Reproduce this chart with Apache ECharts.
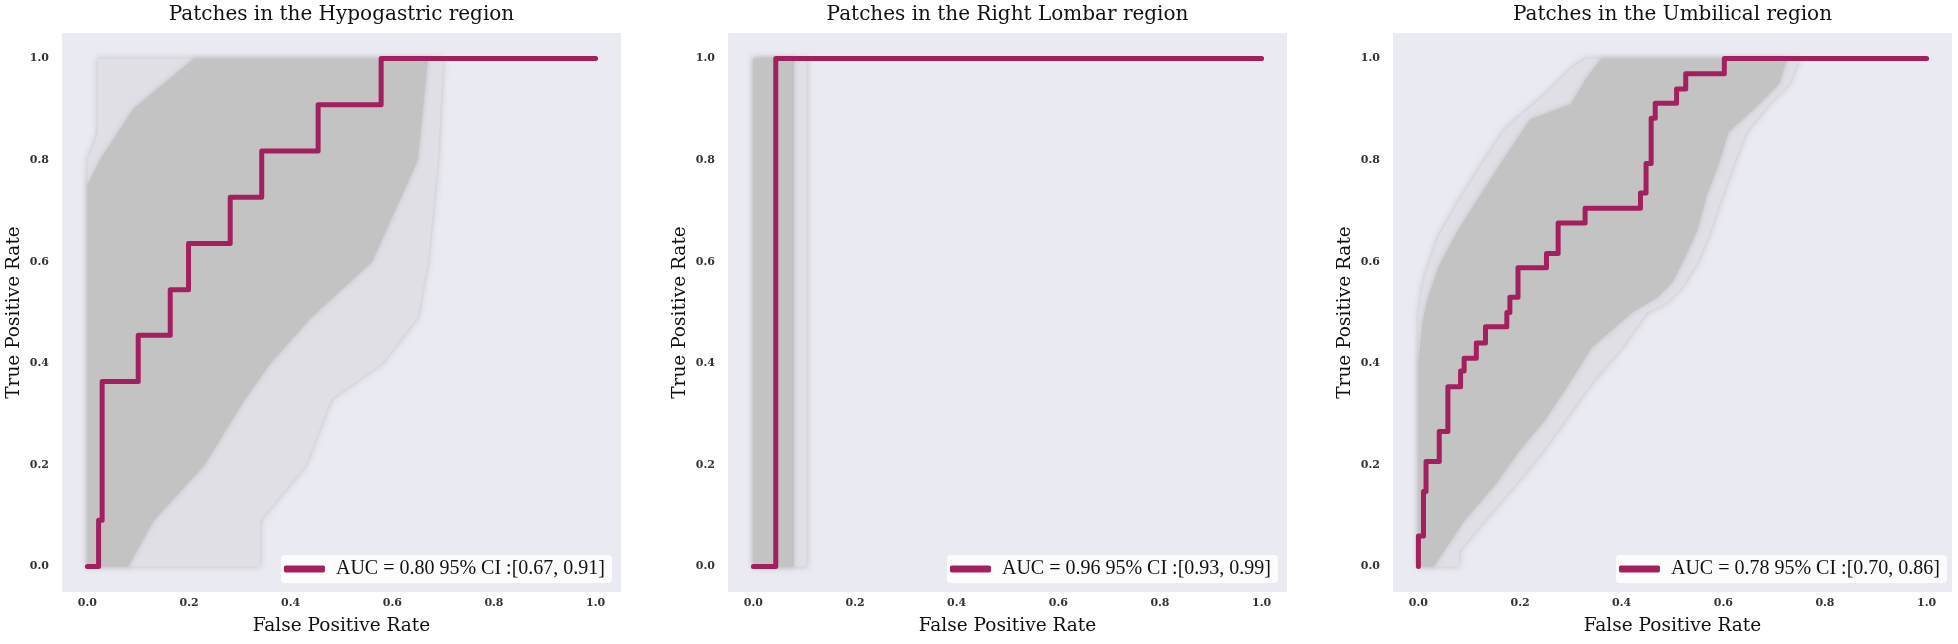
<!DOCTYPE html>
<html>
<head>
<meta charset="utf-8">
<script src="https://cdn.jsdelivr.net/npm/echarts@6/dist/echarts.min.js"></script>
<style>
html,body{margin:0;padding:0;background:#ffffff;}
#chart{width:1958px;height:644px;}
</style>
</head>
<body>
<div id="chart"></div>
<script>
// ---------- data ----------
const titles = [
  'Patches in the Hypogastric region',
  'Patches in the Right Lombar region',
  'Patches in the Umbilical region'
];
const legendLabels = [
  'AUC = 0.80 95% CI :[0.67, 0.91]',
  'AUC = 0.96 95% CI :[0.93, 0.99]',
  'AUC = 0.78 95% CI :[0.70, 0.86]'
];
const xTicks = [0.0, 0.2, 0.4, 0.6, 0.8, 1.0];
const yTicks = [0.0, 0.2, 0.4, 0.6, 0.8, 1.0];
const xName = 'False Positive Rate';
const yName = 'True Positive Rate';

// ROC curves [FPR, TPR]
const rocHypogastric = [[0,0],[0.022,0],[0.022,0.091],[0.029,0.091],[0.029,0.364],[0.10,0.364],[0.10,0.455],
  [0.163,0.455],[0.163,0.545],[0.199,0.545],[0.199,0.636],[0.281,0.636],[0.281,0.727],[0.343,0.727],
  [0.343,0.818],[0.454,0.818],[0.454,0.909],[0.578,0.909],[0.578,1.0],[1.0,1.0]];
const rocRightLombar = [[0,0],[0.044,0],[0.044,1.0],[1.0,1.0]];
const rocUmbilical = [[0,0],[0,0.06],[0.01,0.06],[0.01,0.148],[0.015,0.148],[0.015,0.207],[0.041,0.207],
  [0.041,0.266],[0.058,0.266],[0.058,0.354],[0.083,0.354],[0.083,0.385],[0.09,0.385],[0.09,0.41],
  [0.114,0.41],[0.114,0.44],[0.132,0.44],[0.132,0.472],[0.174,0.472],[0.174,0.50],[0.18,0.50],
  [0.18,0.53],[0.196,0.53],[0.196,0.588],[0.252,0.588],[0.252,0.616],[0.275,0.616],[0.275,0.676],
  [0.328,0.676],[0.328,0.705],[0.437,0.705],[0.437,0.735],[0.448,0.735],[0.448,0.793],[0.458,0.793],
  [0.458,0.882],[0.466,0.882],[0.466,0.912],[0.508,0.912],[0.508,0.94],[0.526,0.94],[0.526,0.97],
  [0.602,0.97],[0.602,1.0],[1.0,1.0]];

// Bootstrap envelopes (outer faint, inner dense) as polygons [FPR, TPR]
const bandHypoOuter = [[0,0],[0,0.8],[0.02,0.85],[0.02,1.0],[0.70,1.0],[0.69,0.8],[0.67,0.6],[0.65,0.49],
  [0.58,0.4],[0.48,0.33],[0.43,0.2],[0.34,0.09],[0.34,0]];
const bandHypoInner = [[0,0],[0,0.75],[0.025,0.8],[0.09,0.9],[0.21,1.0],[0.67,1.0],[0.65,0.8],[0.56,0.6],
  [0.44,0.49],[0.36,0.4],[0.31,0.33],[0.23,0.2],[0.13,0.09],[0.08,0]];
const bandLombarOuter = [[0,0],[0,1.0],[0.105,1.0],[0.105,0]];
const bandLombarInner = [[0,0],[0,1.0],[0.08,1.0],[0.08,0]];
const bandUmbOuter = [[0,0],[0,0.5],[0.012,0.57],[0.04,0.65],[0.08,0.72],[0.13,0.8],[0.17,0.86],[0.25,0.93],
  [0.3,0.98],[0.33,1.0],[0.75,1.0],[0.73,0.95],[0.69,0.91],[0.645,0.855],[0.62,0.79],[0.595,0.72],
  [0.575,0.66],[0.55,0.6],[0.52,0.55],[0.49,0.52],[0.45,0.5],[0.40,0.43],[0.34,0.36],[0.29,0.29],
  [0.24,0.22],[0.19,0.16],[0.13,0.09],[0.08,0.03],[0.08,0]];
const bandUmbInner = [[0,0],[0,0.4],[0.008,0.48],[0.018,0.525],[0.04,0.59],[0.075,0.656],[0.115,0.72],
  [0.16,0.79],[0.2,0.85],[0.22,0.88],[0.30,0.91],[0.33,0.96],[0.36,1.0],[0.725,1.0],[0.71,0.95],
  [0.67,0.91],[0.61,0.855],[0.59,0.79],[0.567,0.73],[0.548,0.66],[0.52,0.6],[0.50,0.56],[0.47,0.53],
  [0.42,0.5],[0.34,0.43],[0.29,0.35],[0.25,0.29],[0.20,0.23],[0.15,0.16],[0.09,0.09],[0.05,0.03],[0.03,0]];

// ---------- layout / style ----------
const rocs = [rocHypogastric, rocRightLombar, rocUmbilical];
const outers = [bandHypoOuter, bandLombarOuter, bandUmbOuter];
const inners = [bandHypoInner, bandLombarInner, bandUmbInner];
const gridLefts = [62, 728, 1393];
const gridW = 559, gridTop = 33, gridH = 559;
const legendRights = [1346, 680, 11];
const serif = '"DejaVu Serif", serif';
const lineColor = '#a3205f';
const bg = '#eaeaf2';

function bandSeries(i, pts, color, z, blur) {
  return {
    type: 'custom', xAxisIndex: i, yAxisIndex: i, silent: true, z: z,
    data: pts,
    renderItem: function (params, api) {
      if (params.dataIndex !== 0) return null;
      return {
        type: 'polygon',
        shape: { points: pts.map(function (p) { return api.coord(p); }) },
        style: { fill: color, stroke: null, shadowBlur: blur, shadowColor: 'rgba(185,185,190,0.9)' }
      };
    }
  };
}

const grid = [], xAxis = [], yAxis = [], series = [], title = [], legend = [];
for (let i = 0; i < 3; i++) {
  grid.push({ left: gridLefts[i], top: gridTop, width: gridW, height: gridH,
    show: true, backgroundColor: bg, borderWidth: 0 });
  title.push({ text: titles[i], left: gridLefts[i] + gridW / 2, top: 5, textAlign: 'center',
    padding: 0,
    textStyle: { fontFamily: serif, fontSize: 20, fontWeight: 'normal', color: '#111' } });
  xAxis.push({ gridIndex: i, type: 'value', min: -0.05, max: 1.05,
    name: xName, nameLocation: 'middle', nameGap: 25,
    nameTextStyle: { fontFamily: serif, fontSize: 18.5, color: '#111' },
    axisLine: { show: false }, axisTick: { show: false }, splitLine: { show: false },
    axisLabel: { customValues: xTicks, margin: 6, fontFamily: serif, fontSize: 11, fontWeight: 'bold', color: '#333',
      formatter: function (v) { return v.toFixed(1); } } });
  yAxis.push({ gridIndex: i, type: 'value', min: -0.05, max: 1.05,
    name: yName, nameLocation: 'middle', nameGap: 38,
    nameTextStyle: { fontFamily: serif, fontSize: 18.5, color: '#111' },
    axisLine: { show: false }, axisTick: { show: false }, splitLine: { show: false },
    axisLabel: { customValues: yTicks, margin: 13, fontFamily: serif, fontSize: 11, fontWeight: 'bold', color: '#333',
      formatter: function (v) { return v.toFixed(1); } } });
  series.push(bandSeries(i, outers[i], '#dfdfe5', 1, 6));
  series.push(bandSeries(i, inners[i], '#c3c3c3', 2, 5));
  series.push({ type: 'line', name: legendLabels[i], xAxisIndex: i, yAxisIndex: i, z: 5,
    data: rocs[i], showSymbol: false, symbol: 'none', clip: false,
    itemStyle: { color: lineColor },
    lineStyle: { color: lineColor, width: 5, cap: 'round', join: 'round' } });
  legend.push({ data: [{ name: legendLabels[i], icon: 'roundRect' }],
    right: legendRights[i], bottom: 61, orient: 'horizontal',
    backgroundColor: 'rgba(255,255,255,0.85)', borderRadius: 4, borderWidth: 0,
    padding: [4, 7, 4, 3], itemWidth: 41, itemHeight: 7, selectedMode: false,
    textStyle: { fontFamily: '"Liberation Serif", serif', fontSize: 20, color: '#111', padding: [0, 0, 0, 6] } });
}

const chart = echarts.init(document.getElementById('chart'), null, { renderer: 'canvas' });
chart.setOption({ animation: false, backgroundColor: '#ffffff', title, legend, grid, xAxis, yAxis, series });
</script>
</body>
</html>
